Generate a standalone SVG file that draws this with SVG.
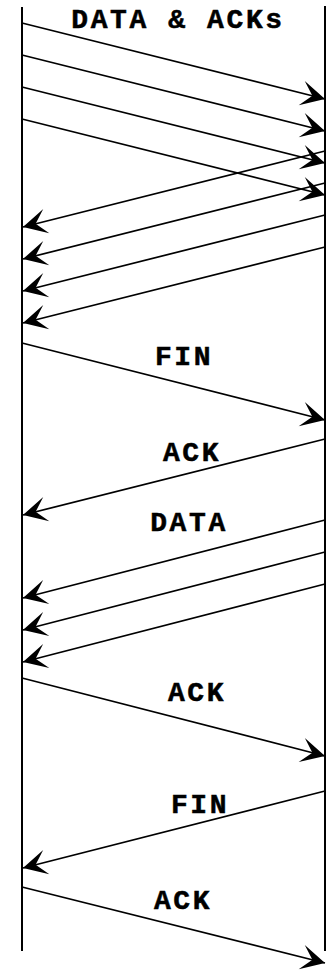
<svg xmlns="http://www.w3.org/2000/svg" width="326" height="971" viewBox="0 0 326 971">
<style>
.life{stroke:#000;stroke-width:2;fill:none}
.msg{stroke:#000;stroke-width:1.7;fill:none;marker-end:url(#ah)}
.lbl{font-family:"Liberation Mono","Courier New",monospace;font-weight:bold;font-size:28px;fill:#000;stroke:#000;stroke-width:0.5;text-anchor:middle;letter-spacing:2.6px}
</style>
<defs>
<marker id="ah" markerUnits="userSpaceOnUse" orient="auto" markerWidth="30" markerHeight="30" refX="26" refY="13" viewBox="0 0 30 26" overflow="visible">
<path d="M26,13 L2,0.5 L13,13 L2,25.5 Z" fill="#000"/>
</marker>
</defs>
<rect width="326" height="971" fill="#fff"/>
<g id="lifelines">
<line class="life" x1="22" y1="7" x2="22" y2="951"/>
<line class="life" x1="325" y1="6" x2="325" y2="951"/>
</g>
<g id="connectors">
<line class="msg" x1="22" y1="23" x2="325" y2="99"/>
<line class="msg" x1="22" y1="55" x2="325" y2="131"/>
<line class="msg" x1="22" y1="87" x2="325" y2="163"/>
<line class="msg" x1="22" y1="119" x2="325" y2="195"/>
<line class="msg" x1="325" y1="151" x2="23" y2="227"/>
<line class="msg" x1="325" y1="183" x2="23" y2="259"/>
<line class="msg" x1="325" y1="215" x2="23" y2="291"/>
<line class="msg" x1="325" y1="247" x2="23" y2="323"/>
<line class="msg" x1="22" y1="343" x2="325" y2="420"/>
<line class="msg" x1="325" y1="439" x2="23" y2="515"/>
<line class="msg" x1="325" y1="520" x2="23" y2="598"/>
<line class="msg" x1="325" y1="552" x2="23" y2="630"/>
<line class="msg" x1="325" y1="584" x2="23" y2="662"/>
<line class="msg" x1="22" y1="678" x2="325" y2="756"/>
<line class="msg" x1="325" y1="791" x2="23" y2="868"/>
<line class="msg" x1="22" y1="887" x2="325" y2="963"/>
</g>
<g id="label-data-acks"><text class="lbl" x="178" y="28">DATA &amp; ACKs</text></g>
<g id="label-fin1"><text class="lbl" x="184" y="365">FIN</text></g>
<g id="label-ack1"><text class="lbl" x="192" y="461">ACK</text></g>
<g id="label-data"><text class="lbl" x="189" y="531">DATA</text></g>
<g id="label-ack2"><text class="lbl" x="197" y="701">ACK</text></g>
<g id="label-fin2"><text class="lbl" x="200" y="813">FIN</text></g>
<g id="label-ack3"><text class="lbl" x="183" y="909">ACK</text></g>
</svg>
